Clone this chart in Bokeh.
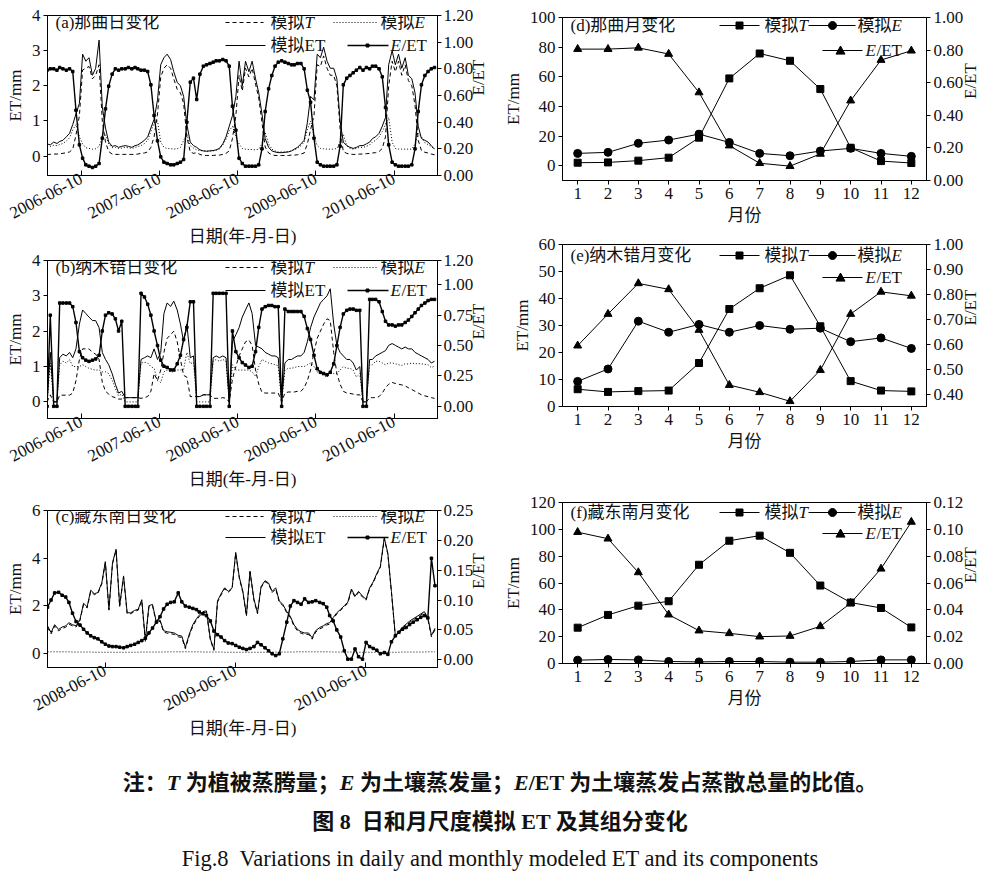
import math
import pandas as pd
from bokeh.plotting import figure
from bokeh.models import (Range1d, LinearAxis, FixedTicker, DatetimeTickFormatter,
                          NumeralTickFormatter, Label, Arrow, PolyAnnotation, Div)
from bokeh.layouts import column, row
from bokeh.embed import file_html
from bokeh.resources import INLINE

FONT = "Liberation Serif, Noto Sans CJK SC"
FS = "17px"

# daily panels (a), (b): values read on the 1st and 16th of each month, 2006-2010
ab_dates = [pd.Timestamp(y, m, d) for y in range(2006, 2011) for m in range(1, 13) for d in (1, 16)]
# daily panel (c): values read per dekad, 2008-2010
c_dates = [pd.Timestamp(y, m, d) for y in range(2008, 2011) for m in range(1, 13) for d in (1, 11, 21)]

# (a) 那曲
a_ratio = [
    0.79, 0.80, 0.80, 0.79, 0.81, 0.80, 0.79, 0.80, 0.78, 0.49, 0.23, 0.13, 0.08, 0.07, 0.06, 0.07, 0.09, 0.28, 0.50, 0.67, 0.76, 0.80, 0.79, 0.80,
    0.80, 0.81, 0.80, 0.81, 0.80, 0.79, 0.79, 0.78, 0.68, 0.45, 0.26, 0.14, 0.10, 0.09, 0.08, 0.08, 0.09, 0.10, 0.12, 0.40, 0.70, 0.73, 0.57, 0.76,
    0.82, 0.83, 0.84, 0.85, 0.86, 0.86, 0.87, 0.86, 0.82, 0.52, 0.34, 0.13, 0.09, 0.07, 0.07, 0.07, 0.07, 0.08, 0.20, 0.48, 0.65, 0.75, 0.82, 0.85,
    0.86, 0.85, 0.84, 0.83, 0.83, 0.84, 0.84, 0.80, 0.64, 0.55, 0.28, 0.10, 0.08, 0.07, 0.07, 0.07, 0.07, 0.08, 0.22, 0.68, 0.73, 0.75, 0.77, 0.79,
    0.81, 0.79, 0.81, 0.80, 0.82, 0.82, 0.80, 0.74, 0.51, 0.23, 0.10, 0.08, 0.07, 0.07, 0.07, 0.07, 0.08, 0.20, 0.48, 0.68, 0.75, 0.78, 0.80, 0.81,
]
a_et = [
    0.35, 0.32, 0.40, 0.36, 0.42, 0.45, 0.55, 0.65, 0.90, 1.20, 1.50, 2.90, 2.70, 2.80, 2.30, 2.50, 3.30, 1.40, 0.80, 0.40, 0.28, 0.30, 0.25, 0.28,
    0.30, 0.28, 0.25, 0.30, 0.32, 0.38, 0.45, 0.55, 0.80, 1.05, 1.60, 2.60, 2.80, 2.90, 2.75, 2.40, 2.10, 2.00, 1.70, 0.90, 0.40, 0.30, 0.25, 0.18,
    0.15, 0.14, 0.15, 0.16, 0.18, 0.22, 0.35, 0.55, 0.85, 1.15, 1.70, 2.70, 2.00, 2.70, 2.40, 2.70, 2.20, 1.80, 1.20, 0.50, 0.25, 0.15, 0.12, 0.10,
    0.10, 0.11, 0.12, 0.15, 0.20, 0.25, 0.35, 0.45, 0.95, 1.70, 1.60, 2.90, 2.80, 3.10, 2.70, 2.50, 2.50, 2.20, 1.00, 0.40, 0.30, 0.25, 0.22, 0.25,
    0.30, 0.30, 0.35, 0.40, 0.50, 0.55, 0.65, 0.85, 1.10, 2.60, 3.00, 2.60, 2.90, 2.50, 2.80, 2.30, 2.20, 1.80, 0.85, 0.50, 0.45, 0.40, 0.30, 0.20,
]
a_t = [
    0.05, 0.05, 0.06, 0.06, 0.07, 0.08, 0.10, 0.12, 0.20, 0.60, 1.15, 2.45, 2.50, 2.55, 2.20, 2.30, 2.60, 1.00, 0.40, 0.13, 0.06, 0.05, 0.05, 0.05,
    0.05, 0.05, 0.05, 0.05, 0.06, 0.08, 0.09, 0.12, 0.25, 0.55, 1.20, 2.25, 2.50, 2.60, 2.50, 2.20, 1.90, 1.80, 1.50, 0.55, 0.12, 0.08, 0.10, 0.05,
    0.02, 0.02, 0.02, 0.02, 0.03, 0.03, 0.05, 0.08, 0.15, 0.50, 1.15, 2.30, 1.85, 2.50, 2.25, 2.50, 2.05, 1.65, 0.95, 0.26, 0.09, 0.04, 0.02, 0.02,
    0.02, 0.02, 0.02, 0.03, 0.03, 0.04, 0.06, 0.09, 0.35, 0.75, 1.15, 2.60, 2.55, 2.85, 2.50, 2.30, 2.30, 2.00, 0.78, 0.13, 0.08, 0.06, 0.05, 0.05,
    0.06, 0.06, 0.07, 0.08, 0.09, 0.10, 0.13, 0.22, 0.55, 2.00, 2.70, 2.40, 2.70, 2.30, 2.60, 2.15, 2.00, 1.45, 0.45, 0.16, 0.11, 0.09, 0.06, 0.04,
]
a_e = [
    0.28, 0.27, 0.31, 0.30, 0.33, 0.36, 0.43, 0.52, 0.75, 0.90, 0.55, 0.35, 0.24, 0.22, 0.20, 0.21, 0.28, 0.55, 0.60, 0.35, 0.24, 0.25, 0.22, 0.23,
    0.25, 0.24, 0.22, 0.25, 0.27, 0.30, 0.36, 0.45, 0.70, 0.95, 1.00, 0.40, 0.25, 0.22, 0.21, 0.20, 0.21, 0.25, 0.45, 0.62, 0.30, 0.23, 0.18, 0.16,
    0.15, 0.14, 0.15, 0.15, 0.17, 0.20, 0.32, 0.48, 0.72, 0.85, 0.55, 0.35, 0.22, 0.20, 0.19, 0.19, 0.18, 0.20, 0.35, 0.68, 0.35, 0.20, 0.15, 0.12,
    0.12, 0.12, 0.13, 0.15, 0.18, 0.22, 0.30, 0.40, 0.75, 1.00, 0.60, 0.30, 0.22, 0.21, 0.20, 0.20, 0.20, 0.22, 0.40, 0.62, 0.30, 0.22, 0.20, 0.22,
    0.25, 0.25, 0.28, 0.32, 0.40, 0.45, 0.55, 0.70, 0.90, 1.10, 0.40, 0.22, 0.20, 0.20, 0.20, 0.20, 0.20, 0.35, 0.65, 0.55, 0.38, 0.33, 0.28, 0.20,
]

# (b) 纳木错
b_ratio = [
    0.00, 0.75, 0.00, 0.00, 0.85, 0.85, 0.85, 0.85, 0.82, 0.69, 0.45, 0.40, 0.38, 0.37, 0.38, 0.39, 0.42, 0.62, 0.75, 0.77, 0.76, 0.72, 0.62, 0.70,
    0.00, 0.00, 0.00, 0.00, 0.00, 0.93, 0.90, 0.84, 0.75, 0.62, 0.50, 0.38, 0.33, 0.32, 0.30, 0.30, 0.35, 0.42, 0.55, 0.65, 0.86, 0.86, 0.00, 0.00,
    0.00, 0.00, 0.00, 0.93, 0.93, 0.93, 0.93, 0.93, 0.00, 0.62, 0.45, 0.40, 0.36, 0.34, 0.32, 0.33, 0.45, 0.65, 0.80, 0.82, 0.83, 0.83, 0.82, 0.82,
    0.00, 0.80, 0.78, 0.78, 0.78, 0.78, 0.78, 0.74, 0.64, 0.55, 0.42, 0.31, 0.28, 0.27, 0.26, 0.28, 0.35, 0.50, 0.65, 0.76, 0.79, 0.80, 0.80, 0.79,
    0.79, 0.00, 0.00, 0.88, 0.88, 0.88, 0.86, 0.78, 0.70, 0.67, 0.67, 0.66, 0.67, 0.67, 0.69, 0.71, 0.74, 0.77, 0.80, 0.83, 0.85, 0.87, 0.88, 0.88,
]
b_et = [
    0.00, 1.40, 0.00, 0.00, 1.25, 1.35, 1.30, 1.40, 1.25, 1.50, 2.20, 2.60, 2.50, 2.40, 2.30, 2.30, 2.10, 1.40, 1.20, 1.05, 0.80, 0.50, 0.25, 0.30,
    0.12, 0.12, 0.12, 0.12, 0.12, 1.20, 1.25, 1.30, 1.25, 1.50, 1.20, 1.40, 2.50, 2.80, 2.70, 2.85, 2.60, 2.20, 1.70, 2.20, 1.25, 1.30, 0.15, 0.15,
    0.20, 0.20, 0.20, 1.25, 1.30, 1.25, 1.30, 1.25, 0.00, 1.70, 1.90, 2.10, 2.40, 2.60, 2.80, 2.50, 1.60, 1.55, 1.50, 1.40, 1.35, 1.30, 1.30, 1.25,
    0.00, 1.10, 1.20, 1.20, 1.25, 1.30, 1.30, 1.40, 1.70, 2.10, 2.40, 2.60, 2.80, 2.90, 3.00, 3.20, 2.20, 1.60, 1.40, 1.30, 1.20, 1.20, 1.10, 0.90,
    1.00, 0.00, 0.00, 1.20, 1.20, 1.30, 1.35, 1.40, 1.45, 1.60, 1.65, 1.60, 1.55, 1.50, 1.55, 1.50, 1.50, 1.40, 1.35, 1.30, 1.25, 1.20, 1.10, 1.15,
]
b_t = [
    0.00, 0.20, 0.00, 0.00, 0.19, 0.19, 0.19, 0.19, 0.25, 0.60, 1.20, 1.50, 1.50, 1.50, 1.40, 1.35, 1.20, 0.55, 0.30, 0.22, 0.15, 0.12, 0.08, 0.08,
    0.12, 0.12, 0.12, 0.12, 0.12, 0.10, 0.12, 0.15, 0.30, 0.80, 0.60, 0.90, 1.40, 1.80, 1.90, 2.00, 1.70, 1.20, 0.75, 0.70, 0.15, 0.15, 0.15, 0.15,
    0.20, 0.20, 0.20, 0.10, 0.10, 0.10, 0.12, 0.10, 0.00, 0.65, 1.00, 1.30, 1.50, 1.70, 1.75, 1.60, 0.90, 0.50, 0.27, 0.25, 0.25, 0.25, 0.25, 0.25,
    0.00, 0.25, 0.28, 0.28, 0.28, 0.30, 0.30, 0.40, 0.60, 0.90, 1.40, 1.80, 2.00, 2.20, 2.35, 2.30, 1.40, 0.80, 0.50, 0.30, 0.25, 0.24, 0.22, 0.20,
    0.20, 0.00, 0.00, 0.12, 0.12, 0.12, 0.15, 0.25, 0.40, 0.50, 0.55, 0.52, 0.50, 0.48, 0.45, 0.40, 0.35, 0.30, 0.25, 0.20, 0.17, 0.15, 0.12, 0.10,
]
b_e = [
    0.00, 1.10, 0.00, 0.00, 1.05, 1.15, 1.10, 1.20, 1.00, 1.00, 1.00, 1.05, 1.00, 0.95, 0.92, 0.90, 0.90, 0.85, 0.85, 0.80, 0.62, 0.38, 0.17, 0.22,
    0.00, 0.00, 0.00, 0.00, 0.00, 1.10, 1.12, 1.10, 1.00, 0.95, 0.60, 0.55, 0.85, 0.90, 0.85, 0.85, 0.90, 0.90, 0.92, 1.40, 1.08, 1.12, 0.00, 0.00,
    0.00, 0.00, 0.00, 1.15, 1.20, 1.15, 1.20, 1.15, 0.00, 1.05, 0.90, 0.90, 0.90, 0.90, 0.90, 0.85, 0.72, 1.00, 1.20, 1.15, 1.10, 1.08, 1.05, 1.02,
    0.00, 0.90, 0.95, 0.95, 0.97, 1.00, 1.00, 1.00, 1.05, 1.10, 1.00, 0.85, 0.80, 0.75, 0.70, 0.85, 0.80, 0.80, 0.90, 1.00, 0.95, 0.95, 0.90, 0.70,
    0.80, 0.00, 0.00, 1.05, 1.05, 1.15, 1.15, 1.10, 1.05, 1.10, 1.10, 1.08, 1.05, 1.03, 1.08, 1.07, 1.10, 1.08, 1.08, 1.08, 1.06, 1.05, 0.97, 1.01,
]

# (c) 藏东南
c_ratio = [
    0.088, 0.100, 0.112, 0.113, 0.108, 0.105, 0.096, 0.078, 0.064, 0.058, 0.051, 0.045, 0.040, 0.037, 0.035, 0.030, 0.026, 0.023,
    0.022, 0.022, 0.021, 0.020, 0.022, 0.024, 0.026, 0.029, 0.032, 0.036, 0.045, 0.053, 0.063, 0.072, 0.085, 0.093, 0.096, 0.097,
    0.112, 0.097, 0.090, 0.088, 0.086, 0.084, 0.080, 0.077, 0.074, 0.065, 0.048, 0.042, 0.038, 0.032, 0.028, 0.027, 0.024, 0.021,
    0.019, 0.017, 0.019, 0.022, 0.029, 0.025, 0.020, 0.015, 0.010, 0.007, 0.010, 0.035, 0.063, 0.090, 0.099, 0.096, 0.093, 0.102,
    0.096, 0.097, 0.099, 0.096, 0.094, 0.088, 0.074, 0.065, 0.050, 0.038, 0.015, 0.001, 0.001, 0.018, 0.005, 0.001, 0.029, 0.022,
    0.019, 0.016, 0.010, 0.012, 0.009, 0.030, 0.040, 0.046, 0.051, 0.054, 0.059, 0.063, 0.067, 0.071, 0.074, 0.070, 0.170, 0.124,
]
c_et = [
    1.15, 0.87, 1.20, 1.00, 1.10, 1.15, 1.28, 1.20, 1.15, 1.43, 2.10, 1.95, 2.65, 2.50, 2.55, 2.95, 3.85, 1.85,
    3.80, 4.37, 2.00, 3.25, 1.70, 1.70, 1.80, 1.85, 2.25, 0.55, 2.00, 2.05, 1.30, 1.40, 0.95, 0.90, 0.88, 0.85,
    0.75, 0.72, 0.25, 0.80, 1.20, 1.45, 1.60, 1.75, 1.78, 0.60, 0.17, 2.20, 2.50, 2.75, 2.60, 2.75, 4.24, 3.20,
    2.60, 1.60, 3.45, 2.27, 1.70, 2.80, 3.05, 2.95, 2.60, 2.75, 2.20, 2.05, 1.75, 1.55, 1.20, 1.00, 0.90, 0.85,
    0.85, 0.65, 0.95, 1.08, 1.15, 1.25, 1.28, 1.50, 1.70, 1.85, 2.00, 2.15, 2.70, 2.40, 2.60, 2.40, 2.27, 2.75,
    3.00, 3.35, 3.65, 4.85, 4.20, 2.60, 0.73, 0.90, 1.10, 1.22, 1.35, 1.45, 1.55, 1.65, 1.75, 1.50, 0.75, 1.05,
]
c_t = [
    1.09, 0.81, 1.14, 0.94, 1.04, 1.09, 1.22, 1.15, 1.10, 1.38, 2.05, 1.90, 2.60, 2.46, 2.51, 2.91, 3.81, 1.81,
    3.76, 4.33, 1.96, 3.21, 1.66, 1.66, 1.76, 1.81, 2.20, 0.50, 1.95, 2.00, 1.25, 1.35, 0.90, 0.84, 0.82, 0.79,
    0.69, 0.66, 0.19, 0.74, 1.14, 1.39, 1.54, 1.70, 1.73, 0.55, 0.12, 2.15, 2.45, 2.71, 2.56, 2.71, 4.20, 3.16,
    2.56, 1.56, 3.41, 2.23, 1.66, 2.76, 3.01, 2.91, 2.55, 2.70, 2.15, 2.00, 1.70, 1.50, 1.15, 0.94, 0.84, 0.79,
    0.79, 0.59, 0.89, 1.02, 1.09, 1.19, 1.22, 1.45, 1.65, 1.80, 1.95, 2.10, 2.65, 2.36, 2.56, 2.36, 2.23, 2.71,
    2.96, 3.31, 3.61, 4.81, 4.16, 2.56, 0.69, 0.86, 1.05, 1.17, 1.30, 1.40, 1.50, 1.60, 1.70, 1.44, 0.69, 0.99,
]
c_e = [
    0.06, 0.06, 0.06, 0.06, 0.06, 0.06, 0.06, 0.05, 0.05, 0.05, 0.05, 0.05, 0.05, 0.04, 0.04, 0.04, 0.04, 0.04,
    0.04, 0.04, 0.04, 0.04, 0.04, 0.04, 0.04, 0.04, 0.05, 0.05, 0.05, 0.05, 0.05, 0.05, 0.05, 0.06, 0.06, 0.06,
    0.06, 0.06, 0.06, 0.06, 0.06, 0.06, 0.06, 0.05, 0.05, 0.05, 0.05, 0.05, 0.05, 0.04, 0.04, 0.04, 0.04, 0.04,
    0.04, 0.04, 0.04, 0.04, 0.04, 0.04, 0.04, 0.04, 0.05, 0.05, 0.05, 0.05, 0.05, 0.05, 0.05, 0.06, 0.06, 0.06,
    0.06, 0.06, 0.06, 0.06, 0.06, 0.06, 0.06, 0.05, 0.05, 0.05, 0.05, 0.05, 0.05, 0.04, 0.04, 0.04, 0.04, 0.04,
    0.04, 0.04, 0.04, 0.04, 0.04, 0.04, 0.04, 0.04, 0.05, 0.05, 0.05, 0.05, 0.05, 0.05, 0.05, 0.06, 0.06, 0.06,
]

# monthly panels (d), (e), (f)
months = list(range(1, 13))
d_T = [2.0, 2.2, 3.4, 5.4, 18.9, 58.9, 75.7, 70.8, 51.7, 12.1, 3.1, 1.8]
d_E = [8.3, 9.0, 15.1, 17.3, 21.3, 15.7, 8.3, 6.7, 9.9, 11.7, 8.3, 6.3]
d_ratio = [0.806, 0.806, 0.814, 0.776, 0.54, 0.214, 0.106, 0.088, 0.163, 0.49, 0.739, 0.796]
e_T = [6.4, 5.4, 5.7, 5.9, 16.1, 36.1, 43.8, 48.6, 29.7, 9.4, 5.9, 5.6]
e_E = [9.3, 13.9, 31.6, 27.5, 30.4, 27.5, 30.0, 28.6, 29.0, 24.0, 25.4, 21.5]
e_ratio = [0.594, 0.721, 0.844, 0.820, 0.657, 0.436, 0.407, 0.371, 0.496, 0.721, 0.810, 0.794]
f_T = [26.7, 36.2, 43.1, 46.4, 73.6, 91.5, 95.3, 82.5, 58.1, 45.4, 41.4, 26.9]
f_E = [2.5, 3.0, 2.7, 1.5, 1.2, 1.5, 1.5, 1.0, 1.0, 1.5, 2.7, 2.7]
f_ratio = [0.0979, 0.093, 0.0679, 0.0364, 0.0245, 0.0225, 0.020, 0.0205, 0.0277, 0.045, 0.0706, 0.1055]


def style(p):
    p.outline_line_color = "black"
    p.xgrid.visible = False
    p.ygrid.visible = False
    for ax in p.axis:
        ax.axis_line_color = "black"
        ax.major_tick_line_color = "black"
        ax.minor_tick_line_color = None
        ax.major_tick_out = 4
        ax.major_tick_in = 0
        ax.major_label_text_font = FONT
        ax.major_label_text_font_size = FS
        ax.major_label_text_color = "#111111"
        ax.axis_label_text_font = FONT
        ax.axis_label_text_font_size = FS
        ax.axis_label_text_font_style = "normal"
        ax.axis_label_text_color = "#111111"
        ax.major_label_standoff = 3
        ax.axis_label_standoff = 4


def key_line(p, x0, x1, y, dash="solid", width=1.0):
    p.add_layout(Arrow(end=None, x_start=x0, y_start=y, x_end=x1, y_end=y,
                       start_units="screen", end_units="screen",
                       line_color="black", line_width=width, line_dash=dash))


def key_text(p, x, y, text, italic=False):
    p.add_layout(Label(x=x, y=y, x_units="screen", y_units="screen", text=text,
                       text_font=FONT, text_font_size=FS, text_color="#111111",
                       text_font_style="italic" if italic else "normal",
                       text_baseline="middle", text_align="left"))


def key_mark(p, cx, cy, shape, r):
    if shape == "square":
        xs = [cx - r, cx + r, cx + r, cx - r]
        ys = [cy - r, cy - r, cy + r, cy + r]
    elif shape == "triangle":
        xs = [cx - r, cx + r, cx]
        ys = [cy - 0.8 * r, cy - 0.8 * r, cy + r]
    else:
        xs = [cx + r * math.cos(2 * math.pi * i / 16) for i in range(16)]
        ys = [cy + r * math.sin(2 * math.pi * i / 16) for i in range(16)]
    p.add_layout(PolyAnnotation(xs=xs, ys=ys, xs_units="screen", ys_units="screen",
                                fill_color="black", fill_alpha=1.0,
                                line_color="black", line_alpha=1.0, line_width=1))


def right_axis(p, rticks):
    ax = LinearAxis(y_range_name="r", axis_label="E/ET", ticker=FixedTicker(ticks=rticks),
                    formatter=NumeralTickFormatter(format="0.00"))
    p.add_layout(ax, "right")
    return ax


def ms(s):
    return pd.Timestamp(s).timestamp() * 1000


def daily(tag, dates, et, t, e, ratio, x0, x1, ylim, lticks, rlim, rticks, xticks, fh, bt, bb, y1, y2):
    p = figure(frame_width=390, frame_height=fh, x_axis_type="datetime",
               x_range=Range1d(pd.Timestamp(x0), pd.Timestamp(x1)), y_range=Range1d(*ylim),
               min_border_left=47, min_border_right=63, min_border_top=bt, min_border_bottom=bb,
               output_backend="svg", toolbar_location=None)
    p.extra_y_ranges = {"r": Range1d(*rlim)}
    p.line(dates, t, color="black", line_width=1, line_dash="4 3")
    p.line(dates, e, color="black", line_width=1, line_dash="1 2")
    p.line(dates, et, color="black", line_width=1)
    p.line(dates, ratio, color="black", line_width=1.4, y_range_name="r")
    p.scatter(dates, ratio, marker="square", size=2.5, color="black", y_range_name="r")
    p.yaxis.ticker = FixedTicker(ticks=lticks)
    p.yaxis.formatter = NumeralTickFormatter(format="0")
    p.yaxis.axis_label = "ET/mm"
    ra = right_axis(p, rticks)
    p.xaxis.ticker = FixedTicker(ticks=[ms(s) for s in xticks])
    fmt = "%Y-%m-%d"
    p.xaxis.formatter = DatetimeTickFormatter(days=fmt, months=fmt, years=fmt, hours=fmt)
    p.xaxis.axis_label = "日期(年-月-日)"
    style(p)
    ra.axis_label_orientation = math.pi / 2
    ra.major_label_standoff = 2
    ra.axis_label_standoff = 2
    p.xaxis.major_label_orientation = 0.48
    p.xaxis.major_label_standoff = 2
    p.xaxis.axis_label_standoff = 0
    p.xaxis.major_tick_in = 5
    p.xaxis.major_tick_out = 0
    key_text(p, 8, y1, tag)
    key_line(p, 178, 216, y1, "4 3")
    key_text(p, 223, y1, "模拟")
    key_text(p, 257, y1, "T", True)
    key_line(p, 286, 330, y1, "1 2")
    key_text(p, 333, y1, "模拟")
    key_text(p, 367, y1, "E", True)
    key_line(p, 178, 218, y2)
    key_text(p, 223, y2, "模拟ET")
    key_line(p, 300, 341, y2, width=1.4)
    key_mark(p, 320, y2, "square", 1.5)
    key_text(p, 343, y2, "E", True)
    key_text(p, 354, y2, "/ET")
    return p


def monthly(tag, T, E, ratio, ylim, lticks, rlim, rticks, fh, bt, bb, y1, y2):
    p = figure(frame_width=364, frame_height=fh, x_range=Range1d(0.5, 12.5), y_range=Range1d(*ylim),
               min_border_left=54, min_border_right=64, min_border_top=bt, min_border_bottom=bb,
               output_backend="svg", toolbar_location=None)
    p.extra_y_ranges = {"r": Range1d(*rlim)}
    p.line(months, T, color="black", line_width=1)
    p.scatter(months, T, marker="square", size=7, color="black")
    p.line(months, E, color="black", line_width=1)
    p.scatter(months, E, marker="circle", size=8, color="black")
    p.line(months, ratio, color="black", line_width=1, y_range_name="r")
    p.scatter(months, ratio, marker="triangle", size=8, color="black", y_range_name="r")
    p.yaxis.ticker = FixedTicker(ticks=lticks)
    p.yaxis.axis_label = "ET/mm"
    ra = right_axis(p, rticks)
    p.xaxis.ticker = FixedTicker(ticks=months)
    p.xaxis.axis_label = "月份"
    style(p)
    ra.axis_label_orientation = math.pi / 2
    key_text(p, 8, y1, tag)
    key_line(p, 157, 197, y1)
    key_mark(p, 177, y1, "square", 3.5)
    key_text(p, 202, y1, "模拟")
    key_text(p, 236, y1, "T", True)
    key_line(p, 246, 293, y1)
    key_mark(p, 270, y1, "circle", 4)
    key_text(p, 295, y1, "模拟")
    key_text(p, 329, y1, "E", True)
    key_line(p, 260, 300, y2)
    key_mark(p, 278, y2, "triangle", 4.5)
    key_text(p, 303, y2, "E", True)
    key_text(p, 314, y2, "/ET")
    return p


years_a = ["2006-06-10", "2007-06-10", "2008-06-10", "2009-06-10", "2010-06-10"]
years_c = ["2008-06-10", "2009-06-10", "2010-06-10"]
r12 = [0, 0.2, 0.4, 0.6, 0.8, 1.0, 1.2]

pa = daily("(a)那曲日变化", ab_dates, a_et, a_t, a_e, a_ratio, "2006-01-03", "2010-12-30",
           (-0.55, 4.0), [0, 1, 2, 3, 4], (0, 1.2), r12, years_a, 160, 15, 75, 153, 130)
pb = daily("(b)纳木错日变化", ab_dates, b_et, b_t, b_e, b_ratio, "2006-01-03", "2010-12-30",
           (-0.47, 4.0), [0, 1, 2, 3, 4], (-0.1, 1.2), [0, 0.25, 0.5, 0.75, 1.0, 1.2],
           years_a, 158, 10, 82, 151, 128)
pc = daily("(c)藏东南日变化", c_dates, c_et, c_t, c_e, c_ratio, "2008-01-01", "2010-12-28",
           (-0.6, 6.0), [0, 2, 4, 6], (-0.013, 0.25), [0, 0.05, 0.1, 0.15, 0.2, 0.25],
           years_c, 157, 10, 78, 151, 130)

pd_ = monthly("(d)那曲月变化", d_T, d_E, d_ratio, (-10, 100), [0, 20, 40, 60, 80, 100],
              (0, 1.0), [0, 0.2, 0.4, 0.6, 0.8, 1.0], 163, 17, 54, 155, 130)
pe = monthly("(e)纳木错月变化", e_T, e_E, e_ratio, (0, 60), [0, 10, 20, 30, 40, 50, 60],
             (0.35, 1.0), [0.4, 0.5, 0.6, 0.7, 0.8, 0.9, 1.0], 162, 10, 58, 151, 129)
pf = monthly("(f)藏东南月变化", f_T, f_E, f_ratio, (0, 120), [0, 20, 40, 60, 80, 100, 120],
             (0, 0.12), [0, 0.02, 0.04, 0.06, 0.08, 0.10, 0.12], 161, 38, 82, 151, 130)

caption = Div(width=990, height=120, text=(
    '<div style="font-family: \'Liberation Serif\', \'Noto Sans CJK SC\'; text-align:center; '
    'color:#111; padding-top:14px; width:990px;">'
    '<div style="font-size:22px; font-weight:bold; line-height:38px;">注：<i>T</i> 为植被蒸腾量；'
    '<i>E</i> 为土壤蒸发量；<i>E</i>/ET 为土壤蒸发占蒸散总量的比值。</div>'
    '<div style="font-size:22px; font-weight:bold; line-height:39px;">图 8&nbsp; 日和月尺度模拟 ET 及其组分变化</div>'
    '<div style="font-size:22.5px; line-height:36px;">Fig.8&nbsp; Variations in daily and monthly modeled ET and its components</div>'
    '</div>'))

layout = column(row(column(pa, pb, pc), column(pd_, pe, pf)), caption)

open("out.html", "w").write(file_html(layout, INLINE))
